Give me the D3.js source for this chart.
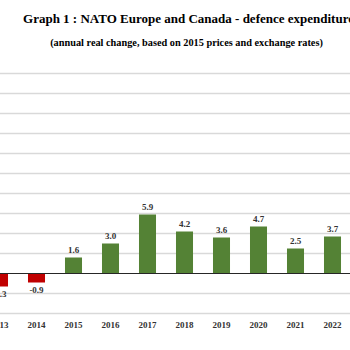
<!DOCTYPE html>
<html lang="en">
<head>
    <meta charset="UTF-8">
    <title>NATO Europe and Canada - defence expenditure</title>
    <script src="https://d3js.org/d3.v7.min.js"></script>
    <style>
        body { margin: 0; background: #fff; overflow: hidden; }
        text { font-family: "Liberation Serif", "DejaVu Serif", serif; font-weight: bold; }
    </style>
</head>
<body>
    <svg id="chart" width="350" height="350"></svg>

    <script>
        // Data (visible part)
        const years = ['2013', '2014', '2015', '2016', '2017', '2018', '2019', '2020', '2021', '2022'];
        const changes = [-1.3, -0.9, 1.6, 3.0, 5.9, 4.2, 3.6, 4.7, 2.5, 3.7];
        const gridTicks = [-4, -2, 2, 4, 6, 8, 10, 12, 14, 16, 18, 20];

        const titleText = 'Graph 1 : NATO Europe and Canada - defence expenditure';
        const subtitleText = '(annual real change, based on 2015 prices and exchange rates)';

        const svg = d3.select('#chart');
        const width = +svg.attr('width');

        // the graph is wider than the window, so the band range runs past both edges
        const x = d3.scaleBand()
            .domain(years)
            .range([-19, 351])
            .paddingInner(0.54)
            .paddingOuter(0.27);

        const y = d3.scaleLinear()
            .domain([-4, 20])
            .range([313.5, 73.5]);

        // Title and subtitle
        svg.append('text')
            .attr('x', 188.5)
            .attr('y', 23)
            .attr('text-anchor', 'middle')
            .style('font-size', '13px')
            .attr('fill', '#000')
            .text(titleText);

        svg.append('text')
            .attr('x', 186.5)
            .attr('y', 46)
            .attr('text-anchor', 'middle')
            .style('font-size', '10.3px')
            .attr('fill', '#000')
            .text(subtitleText);

        // Gridlines
        svg.append('g')
            .selectAll('line')
            .data(gridTicks)
            .enter().append('line')
            .attr('x1', 0)
            .attr('x2', width)
            .attr('y1', d => y(d))
            .attr('y2', d => y(d))
            .attr('stroke', '#d9d9d9')
            .attr('stroke-width', 1.5);

        // Bars
        svg.append('g')
            .selectAll('rect')
            .data(changes)
            .enter().append('rect')
            .attr('x', (d, i) => x(years[i]))
            .attr('width', x.bandwidth())
            .attr('y', d => y(Math.max(0, d)))
            .attr('height', d => Math.abs(y(d) - y(0)))
            .attr('fill', d => d < 0 ? '#c00000' : '#548235');

        // Zero line
        svg.append('line')
            .attr('x1', 0)
            .attr('x2', width)
            .attr('y1', y(0))
            .attr('y2', y(0))
            .attr('stroke', '#262626')
            .attr('stroke-width', 1.2);

        // Value labels
        svg.append('g')
            .selectAll('text')
            .data(changes)
            .enter().append('text')
            .attr('x', (d, i) => x(years[i]) + x.bandwidth() / 2)
            .attr('y', d => d < 0 ? y(d) + 10 : y(d) - 5)
            .attr('text-anchor', 'middle')
            .style('font-size', '9px')
            .attr('fill', '#333')
            .text(d => d.toFixed(1));

        // Year labels
        svg.append('g')
            .selectAll('text')
            .data(years)
            .enter().append('text')
            .attr('x', d => x(d) + x.bandwidth() / 2)
            .attr('y', 327.5)
            .attr('text-anchor', 'middle')
            .style('font-size', '9px')
            .attr('fill', '#333')
            .text(d => d);
    </script>
</body>
</html>
